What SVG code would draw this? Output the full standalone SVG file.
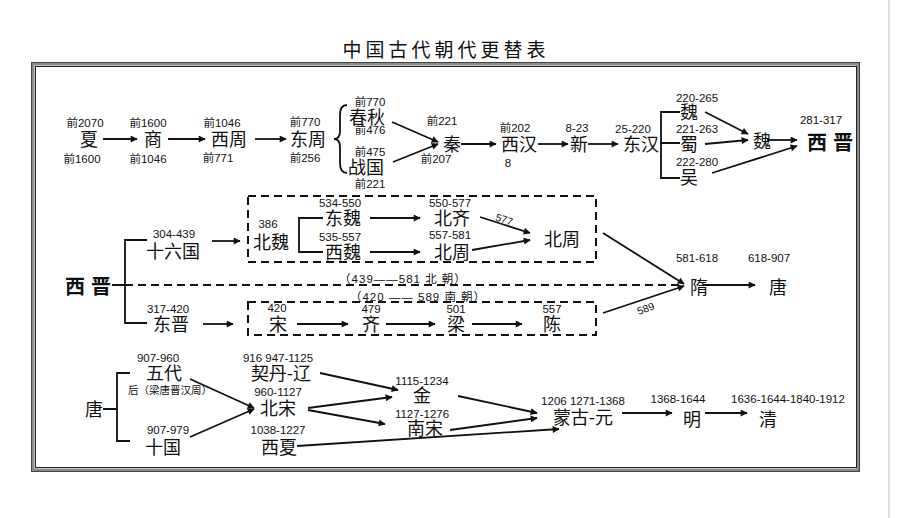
<svg xmlns="http://www.w3.org/2000/svg" width="920" height="518" viewBox="0 0 920 518">
<style>
.c{font-family:"Noto Sans CJK SC","Noto Sans CJK JP",sans-serif;font-size:18px;fill:#111;text-anchor:middle}
.b{font-family:"Noto Sans CJK SC",sans-serif;font-size:20px;font-weight:bold;fill:#111;text-anchor:middle;letter-spacing:6px}
.n{font-family:"Liberation Sans","Noto Sans CJK SC",sans-serif;font-size:11.5px;fill:#111;text-anchor:middle}
.sm{font-family:"Liberation Sans","Noto Sans CJK SC",sans-serif;font-size:10.5px;fill:#111;text-anchor:middle}
.era{font-family:"Liberation Sans","Noto Sans CJK SC",sans-serif;font-size:11.5px;fill:#111;text-anchor:middle;letter-spacing:1px}
.a{stroke:#111;stroke-width:1.8;fill:none;marker-end:url(#ah)}
.l{stroke:#111;stroke-width:1.8;fill:none}
.d{stroke:#111;stroke-width:2;fill:none;stroke-dasharray:8 5}
</style>
<defs>
<marker id="ah" viewBox="0 0 10 10" refX="9" refY="5" markerWidth="8" markerHeight="7" markerUnits="userSpaceOnUse" orient="auto">
<path d="M0,0 L10,5 L0,10 z" fill="#111"/>
</marker>
</defs>
<rect width="920" height="518" fill="#fff"/>
<line x1="889" y1="0" x2="889" y2="518" stroke="#ddd" stroke-width="2"/>
<g id="frame">
<rect x="33" y="64" width="825" height="406" fill="none" stroke="#8a8a8a" stroke-width="3"/>
<rect x="31.5" y="62.5" width="828" height="409" fill="none" stroke="#444" stroke-width="1"/>
<rect x="35.5" y="66.5" width="821" height="401" fill="none" stroke="#222" stroke-width="1"/>
</g>
<text id="title" x="446" y="57" style="font-family:'Noto Sans CJK SC',sans-serif;font-size:19px;fill:#111;text-anchor:middle;letter-spacing:4px">中国古代朝代更替表</text>

<g id="connectors">
<!-- row 1 -->
<line class="a" x1="103" y1="139" x2="137" y2="139"/>
<line class="a" x1="168" y1="139" x2="205" y2="139"/>
<line class="a" x1="255" y1="139" x2="286" y2="139"/>
<path class="l" d="M347,105 Q340,105 340,115 L340,131 Q340,139 334,139 Q340,139 340,147 L340,163 Q340,173 347,173" stroke-width="1.5"/>
<line class="a" x1="392" y1="122" x2="438" y2="142"/>
<line class="a" x1="393" y1="162" x2="438" y2="144"/>
<line class="a" x1="461" y1="144" x2="496" y2="144"/>
<line class="a" x1="538" y1="144" x2="568" y2="144"/>
<line class="a" x1="588" y1="144" x2="618" y2="144"/>
<path class="l" d="M680,112 L661,112 L661,178 L680,178 M660,143 L680,143"/>
<line class="a" x1="705" y1="112" x2="748" y2="134"/>
<line class="a" x1="705" y1="144" x2="748" y2="140"/>
<line class="a" x1="712" y1="173" x2="797" y2="146"/>
<line class="a" x1="767" y1="140" x2="797" y2="140"/>
<!-- row 2 -->
<path class="l" d="M147,240 L125,240 L125,323 L147,323 M112,285 L125,285"/>
<line class="d" x1="125" y1="285" x2="682" y2="285"/>
<line class="a" x1="212" y1="241" x2="240" y2="241"/>
<rect class="d" x="248" y="196" width="348" height="66"/>
<rect class="d" x="248" y="302" width="348" height="33"/>
<path class="l" d="M323,218 L299,218 L299,252 L323,252"/>
<line class="a" x1="370" y1="218" x2="420" y2="218"/>
<line class="a" x1="370" y1="252" x2="420" y2="252"/>
<line class="a" x1="480" y1="217" x2="530" y2="233"/>
<line class="a" x1="472" y1="250" x2="530" y2="240"/>
<line class="a" x1="603" y1="233" x2="684" y2="284"/>
<line class="a" x1="603" y1="313" x2="684" y2="286"/>
<line class="a" x1="703" y1="285" x2="755" y2="285"/>
<line class="a" x1="203" y1="324" x2="233" y2="324"/>
<line class="a" x1="297" y1="324" x2="348" y2="324"/>
<line class="a" x1="386" y1="324" x2="435" y2="324"/>
<line class="a" x1="472" y1="324" x2="522" y2="324"/>
<!-- row 3 -->
<path class="l" d="M130,373 L117,373 L117,441 L130,441 M103,409 L117,409"/>
<line class="a" x1="190" y1="379" x2="254" y2="408"/>
<line class="a" x1="190" y1="437" x2="254" y2="409"/>
<line class="a" x1="320" y1="373" x2="398" y2="390"/>
<line class="a" x1="308" y1="408" x2="392" y2="397"/>
<line class="a" x1="308" y1="410" x2="385" y2="424"/>
<line class="a" x1="297" y1="446" x2="559" y2="429"/>
<line class="a" x1="458" y1="396" x2="537" y2="413"/>
<line class="a" x1="450" y1="430" x2="537" y2="418"/>
<line class="a" x1="622" y1="413" x2="672" y2="413"/>
<line class="a" x1="705" y1="413" x2="747" y2="413"/>
</g>

<!-- row 1 nodes -->
<g id="xia"><text class="n" x="85" y="127">前2070</text><text class="c" x="89" y="146">夏</text><text class="n" x="82" y="163">前1600</text></g>
<g id="shang"><text class="n" x="148" y="127">前1600</text><text class="c" x="153" y="146">商</text><text class="n" x="148" y="163">前1046</text></g>
<g id="xizhou"><text class="n" x="222" y="127">前1046</text><text class="c" x="229" y="146">西周</text><text class="n" x="218" y="162">前771</text></g>
<g id="dongzhou"><text class="n" x="305" y="126">前770</text><text class="c" x="308" y="146">东周</text><text class="n" x="305" y="162">前256</text></g>
<g id="chunqiu"><text class="n" x="370" y="106">前770</text><text class="c" x="367" y="124">春秋</text><text class="n" x="370" y="134">前476</text></g>
<g id="zhanguo"><text class="n" x="370" y="156">前475</text><text class="c" x="366" y="174">战国</text><text class="n" x="370" y="188">前221</text></g>
<g id="qin"><text class="n" x="442" y="125">前221</text><text class="c" x="452" y="151">秦</text><text class="n" x="436" y="163">前207</text></g>
<g id="xihan"><text class="n" x="515" y="132">前202</text><text class="c" x="519" y="151">西汉</text><text class="n" x="508" y="167">8</text></g>
<g id="xin"><text class="n" x="577" y="132">8-23</text><text class="c" x="579" y="151">新</text></g>
<g id="donghan"><text class="n" x="633" y="133">25-220</text><text class="c" x="641" y="151">东汉</text></g>
<g id="wei3"><text class="n" x="697" y="102">220-265</text><text class="c" x="689" y="119">魏</text></g>
<g id="shu"><text class="n" x="697" y="133">221-263</text><text class="c" x="689" y="151">蜀</text></g>
<g id="wu"><text class="n" x="697" y="166">222-280</text><text class="c" x="689" y="184">吴</text></g>
<g id="wei"><text class="c" x="762" y="148">魏</text></g>
<g id="xijin1"><text class="n" x="821" y="124">281-317</text><text class="b" x="833" y="150">西晋</text></g>

<!-- row 2 nodes -->
<g id="xijin2"><text class="b" x="91" y="294">西晋</text></g>
<g id="shiliuguo"><text class="n" x="174" y="238">304-439</text><text class="c" x="173" y="258">十六国</text></g>
<g id="beiwei"><text class="n" x="268" y="228">386</text><text class="c" x="271" y="249">北魏</text></g>
<g id="dongwei"><text class="n" x="340" y="207">534-550</text><text class="c" x="343" y="225">东魏</text></g>
<g id="xiwei"><text class="n" x="340" y="241">535-557</text><text class="c" x="343" y="259">西魏</text></g>
<g id="beiqi"><text class="n" x="450" y="207">550-577</text><text class="c" x="452" y="225">北齐</text></g>
<g id="beizhou1"><text class="n" x="450" y="239">557-581</text><text class="c" x="452" y="259">北周</text></g>
<g id="beizhou"><text class="c" x="562" y="246">北周</text></g>
<g id="lbl577"><text class="sm" x="0" y="0" transform="translate(503,223) rotate(18)">577</text></g>
<g id="lbl589"><text class="sm" x="0" y="0" transform="translate(647,312) rotate(-20)">589</text></g>
<g id="beichao"><text class="era" x="403" y="283">（439——581 北 朝）</text></g>
<g id="nanchao"><text class="era" x="418" y="301">（420 —— 589 南 朝）</text></g>
<g id="dongjin"><text class="n" x="168" y="313">317-420</text><text class="c" x="171" y="331">东晋</text></g>
<g id="song"><text class="n" x="277" y="312">420</text><text class="c" x="278" y="331">宋</text></g>
<g id="qi"><text class="n" x="371" y="313">479</text><text class="c" x="371" y="331">齐</text></g>
<g id="liang"><text class="n" x="456" y="313">501</text><text class="c" x="456" y="331">梁</text></g>
<g id="chen"><text class="n" x="552" y="313">557</text><text class="c" x="552" y="331">陈</text></g>
<g id="sui"><text class="n" x="697" y="262">581-618</text><text class="c" x="699" y="294">隋</text></g>
<g id="tang1"><text class="n" x="769" y="262">618-907</text><text class="c" x="778" y="294">唐</text></g>

<!-- row 3 nodes -->
<g id="tang2"><text class="c" x="94" y="416">唐</text></g>
<g id="wudai"><text class="n" x="158" y="362">907-960</text><text class="c" x="164" y="380">五代</text><text class="sm" x="170" y="394">后（梁唐晋汉周）</text></g>
<g id="shiguo"><text class="n" x="168" y="434">907-979</text><text class="c" x="163" y="454">十国</text></g>
<g id="liao"><text class="n" x="278" y="362">916  947-1125</text><text class="c" x="281" y="380">契丹-辽</text></g>
<g id="beisong"><text class="n" x="278" y="396">960-1127</text><text class="c" x="278" y="415">北宋</text></g>
<g id="xixia"><text class="n" x="278" y="434">1038-1227</text><text class="c" x="279" y="454">西夏</text></g>
<g id="jin"><text class="n" x="422" y="385">1115-1234</text><text class="c" x="422" y="402">金</text></g>
<g id="nansong"><text class="n" x="422" y="418">1127-1276</text><text class="c" x="425" y="435">南宋</text></g>
<g id="yuan"><text class="n" x="583" y="405">1206  1271-1368</text><text class="c" x="583" y="424">蒙古-元</text></g>
<g id="ming"><text class="n" x="678" y="403">1368-1644</text><text class="c" x="692" y="426">明</text></g>
<g id="qing"><text class="n" x="788" y="403">1636-1644-1840-1912</text><text class="c" x="768" y="426">清</text></g>
</svg>
